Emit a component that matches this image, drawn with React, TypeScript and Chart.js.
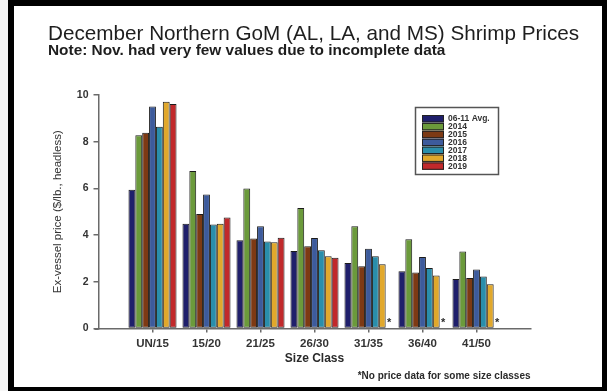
import { useEffect, useRef } from "react";
import { Chart, registerables } from "chart.js";

Chart.register(...registerables);

// Size classes (count per pound) along the category axis
const sizeClasses = ["UN/15", "15/20", "21/25", "26/30", "31/35", "36/40", "41/50"];

// Series names shown in the legend
const seriesLabels = ["06-11 Avg.", "2014", "2015", "2016", "2017", "2018", "2019"];

// December ex-vessel prices ($/lb., headless)
const avg0611 = [5.94, 4.49, 3.78, 3.32, 2.8, 2.45, 2.12];
const y2014 = [8.28, 6.74, 6.0, 5.16, 4.38, 3.82, 3.3];
const y2015 = [8.38, 4.9, 3.85, 3.52, 2.67, 2.4, 2.16];
const y2016 = [9.51, 5.74, 4.38, 3.88, 3.42, 3.06, 2.53];
const y2017 = [8.64, 4.45, 3.73, 3.35, 3.09, 2.59, 2.23];
const y2018 = [9.71, 4.49, 3.69, 3.09, 2.75, 2.27, 1.89];
const y2019 = [9.61, 4.75, 3.89, 3.03, null, null, null];

// Y axis tick values
const priceTicks = [0, 2, 4, 6, 8, 10];

const seriesValues = [avg0611, y2014, y2015, y2016, y2017, y2018, y2019];
const seriesColors = ["#1f1f6b", "#6b9a3b", "#7d3a14", "#3d5b9c", "#2a8eab", "#e1a82c", "#c1292b"];

const FONT = '"Liberation Sans", Arial, Helvetica, sans-serif';
const titleText = "December Northern GoM (AL, LA, and MS) Shrimp Prices";
const noteText = "Note: Nov. had very few values due to incomplete data";
const footnoteText = "*No price data for some size classes";

const decorations = {
  id: "decorations",
  afterDraw(chart: any) {
    const { ctx, chartArea } = chart;
    const yScale = chart.scales.y;
    ctx.save();

    // heading
    ctx.fillStyle = "#1e1e1e";
    ctx.textAlign = "left";
    ctx.textBaseline = "alphabetic";
    ctx.font = `20.7px ${FONT}`;
    ctx.fillText(titleText, 48, 40);
    ctx.font = `bold 15.4px ${FONT}`;
    ctx.fillText(noteText, 48, 55);

    // footnote under the axis title
    ctx.fillStyle = "#2a2a2a";
    ctx.textAlign = "right";
    ctx.font = `bold 10px ${FONT}`;
    ctx.fillText(footnoteText, chartArea.right, 378.5);

    // asterisks where a 2019 price is missing
    const last = chart.data.datasets.length - 1;
    const prevMeta = chart.getDatasetMeta(last - 1);
    const lastData = chart.data.datasets[last].data;
    ctx.textAlign = "center";
    ctx.textBaseline = "middle";
    ctx.font = `bold 11px ${FONT}`;
    lastData.forEach((pt: any, i: number) => {
      if (pt.y == null) {
        const el = prevMeta.data[i];
        ctx.fillText("*", el.x + el.width, yScale.getPixelForValue(0) - 6);
      }
    });

    // x axis runs a little past the y axis on the left
    ctx.strokeStyle = "#6a6a6a";
    ctx.lineWidth = 1.5;
    ctx.beginPath();
    ctx.moveTo(94.5, chartArea.bottom + 0.75);
    ctx.lineTo(chartArea.left, chartArea.bottom + 0.75);
    ctx.stroke();

    // legend box
    const lx = 415.5;
    const ly = 107.5;
    const lw = 83;
    const lh = 67;
    ctx.strokeStyle = "#555";
    ctx.lineWidth = 1.5;
    ctx.strokeRect(lx, ly, lw, lh);
    ctx.textAlign = "left";
    ctx.font = `bold 8.5px ${FONT}`;
    chart.data.datasets.forEach((ds: any, i: number) => {
      const top = 115 + i * 7.9;
      ctx.fillStyle = ds.backgroundColor;
      ctx.fillRect(422, top, 22, 7.4);
      ctx.strokeStyle = "#222";
      ctx.lineWidth = 1;
      ctx.strokeRect(422.5, top + 0.5, 21, 6.4);
      ctx.fillStyle = "#333";
      ctx.fillText(ds.label, 448, top + 4);
    });

    ctx.restore();
  },
};

export default function App() {
  const canvasRef = useRef<HTMLCanvasElement | null>(null);

  useEffect(() => {
    const canvas = canvasRef.current;
    if (!canvas) return;
    const chart = new Chart(canvas, {
      type: "bar",
      data: {
        datasets: seriesLabels.map((label, s) => ({
          label,
          data: sizeClasses.map((_, i) => ({ x: i, y: seriesValues[s][i] })),
          backgroundColor: seriesColors[s],
          borderColor: "#1b1b1b",
          borderWidth: 1,
          borderSkipped: false,
          categoryPercentage: 0.89,
          barPercentage: 1,
        })),
      },
      options: {
        animation: false,
        responsive: false,
        devicePixelRatio: 1,
        layout: { padding: { top: 95, left: 47.5, right: 76.5, bottom: 0 } },
        plugins: {
          legend: { display: false },
          title: { display: false },
          tooltip: { enabled: false },
        },
        scales: {
          x: {
            type: "linear",
            offset: false,
            min: -1,
            max: 7,
            afterBuildTicks: (scale: any) => {
              scale.ticks = sizeClasses.map((_, i) => ({ value: i }));
            },
            afterFit: (scale: any) => {
              scale.height = 62.5;
            },
            grid: {
              display: true,
              offset: false,
              drawOnChartArea: false,
              drawTicks: true,
              tickLength: 4,
              color: "#6a6a6a",
              lineWidth: 1.5,
            },
            border: { display: true, color: "#6a6a6a", width: 1.5 },
            ticks: {
              autoSkip: false,
              maxRotation: 0,
              padding: 4.5,
              color: "#333",
              font: { family: FONT, size: 11.5, weight: "bold" },
              callback: (v: any) => sizeClasses[v] ?? "",
            },
            title: {
              display: true,
              text: "Size Class",
              color: "#2a2a2a",
              font: { family: FONT, size: 12, weight: "bold" },
              padding: { top: 0, bottom: 25 },
            },
          },
          y: {
            min: 0,
            max: 10,
            afterBuildTicks: (scale: any) => {
              scale.ticks = priceTicks.map((v) => ({ value: v }));
            },
            afterFit: (scale: any) => {
              scale.width = 51;
            },
            grid: {
              display: true,
              drawOnChartArea: false,
              drawTicks: true,
              tickLength: 5,
              color: "#6a6a6a",
              lineWidth: 1.5,
            },
            border: { display: true, color: "#6a6a6a", width: 1.5 },
            ticks: {
              padding: 5,
              color: "#333",
              font: { family: FONT, size: 10.5, weight: "bold" },
            },
            title: {
              display: true,
              text: "Ex-vessel price ($/lb., headless)",
              color: "#333",
              font: { family: FONT, size: 11.5 },
              padding: { top: 3.6, bottom: 0 },
            },
          },
        },
      },
      plugins: [decorations],
    } as any);
    return () => chart.destroy();
  }, []);

  return (
    <div
      style={{
        position: "fixed",
        left: 0,
        top: 0,
        width: 607,
        height: 391,
        background: "#f6f6f6",
        overflow: "hidden",
      }}
    >
      <div
        style={{
          position: "absolute",
          left: 8,
          top: 0,
          width: 599,
          height: 391,
          background: "#fff",
        }}
      />
      <canvas
        ref={canvasRef}
        width={607}
        height={391}
        style={{ position: "absolute", left: 0, top: 0, display: "block" }}
      />
      <div
        style={{
          position: "absolute",
          left: 8,
          top: 0,
          width: 599,
          height: 391,
          boxSizing: "border-box",
          borderStyle: "solid",
          borderColor: "#000",
          borderWidth: "6px 5px 4px 6px",
          pointerEvents: "none",
        }}
      />
    </div>
  );
}
